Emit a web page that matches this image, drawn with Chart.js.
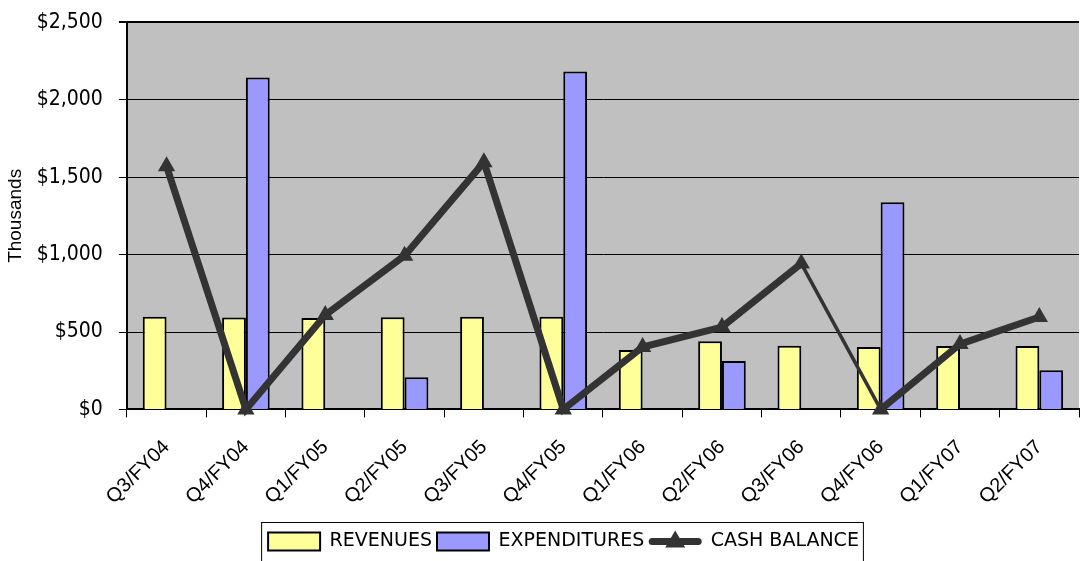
<!DOCTYPE html>
<html>
<head>
<meta charset="utf-8">
<script src="https://cdn.jsdelivr.net/npm/chart.js@4.4.1/dist/chart.umd.min.js"></script>
<style>
  html, body { margin: 0; padding: 0; background: #ffffff; }
  #wrap { width: 1089px; height: 561px; }
</style>
</head>
<body>
<div id="wrap"><canvas id="canvas-chart"></canvas></div>
<script>
let quarters = ['Q3/FY04', 'Q4/FY04', 'Q1/FY05', 'Q2/FY05', 'Q3/FY05', 'Q4/FY05',
                'Q1/FY06', 'Q2/FY06', 'Q3/FY06', 'Q4/FY06', 'Q1/FY07', 'Q2/FY07'];
let revenues = [598, 594, 590, 595, 598, 598, 383, 441, 411, 403, 409, 410];
let expenditures = [null, 2143, null, 208, null, 2182, null, 312, null, 1338, null, 253];
let cashBalance = [1570, 0, 610, 993, 1597, 0, 403, 532, 942, 0, 422, 597];
let yTicks = [0, 500, 1000, 1500, 2000, 2500];

// grey plot area
let plotBackground = {
    id: 'plotBackground',
    beforeDraw: function (chart) {
        let a = chart.chartArea;
        let c = chart.ctx;
        c.save();
        c.fillStyle = '#c0c0c0';
        c.fillRect(a.left, a.top, a.right - a.left, a.bottom - a.top);
        c.restore();
    }
};

// nudge the legend a bit to the right, then frame it and draw the line/triangle symbol
let legendShift = 17;
let legendExtras = {
    id: 'legendExtras',
    afterUpdate: function (chart) {
        let lg = chart.legend;
        lg.left += legendShift;
        lg.right += legendShift;
        lg.legendHitBoxes.forEach(h => { h.left += legendShift; });
    },
    afterDraw: function (chart) {
        let lg = chart.legend;
        let c = chart.ctx;
        let boxes = lg.legendHitBoxes;
        if (!boxes.length) return;
        let first = boxes[0], last = boxes[boxes.length - 1];
        c.save();
        c.strokeStyle = '#000';
        c.lineWidth = 1;
        c.strokeRect(first.left - 6.5, first.top - 9.5, last.left + last.width - first.left + 11, first.height + 30);

        let hb = boxes[2];
        let bw = lg.options.labels.boxWidth;
        let cy = hb.top + hb.height / 2;
        c.strokeStyle = '#333';
        c.lineWidth = 7;
        c.lineCap = 'round';
        c.beginPath();
        c.moveTo(hb.left + 3, cy);
        c.lineTo(hb.left + bw - 3, cy);
        c.stroke();
        c.fillStyle = '#333';
        c.beginPath();
        c.moveTo(hb.left + bw / 2, cy - 11);
        c.lineTo(hb.left + bw / 2 + 10, cy + 6);
        c.lineTo(hb.left + bw / 2 - 10, cy + 6);
        c.closePath();
        c.fill();
        c.restore();
    }
};

let ctx = document.getElementById('canvas-chart').getContext('2d');

let myChart = new Chart(ctx, {
    type: 'bar',
    data: {
        labels: quarters,
        datasets: [{
            label: 'REVENUES',
            data: revenues,
            backgroundColor: '#ffff99',
            borderColor: '#000000',
            borderWidth: 2,
            categoryPercentage: 0.6,
            barPercentage: 1.0,
            order: 1
        }, {
            label: 'EXPENDITURES',
            data: expenditures,
            backgroundColor: '#9999ff',
            borderColor: '#000000',
            borderWidth: 2,
            categoryPercentage: 0.6,
            barPercentage: 1.0,
            order: 1
        }, {
            type: 'line',
            label: 'CASH BALANCE',
            data: cashBalance,
            borderColor: '#333333',
            backgroundColor: '#333333',
            borderWidth: 7,
            pointStyle: 'triangle',
            pointRadius: 10,
            pointBorderWidth: 0,
            pointBackgroundColor: '#333333',
            tension: 0,
            clip: false,
            order: 0,
            segment: {
                borderWidth: c => c.p0DataIndex === 8 ? 3.5 : 7
            }
        }]
    },
    options: {
        responsive: true,
        maintainAspectRatio: false,
        animation: false,
        layout: { padding: { top: 8, right: 0, bottom: 0, left: 4 } },
        plugins: {
            tooltip: { enabled: false },
            legend: {
                position: 'bottom',
                labels: {
                    boxWidth: 52,
                    boxHeight: 18,
                    padding: 5,
                    color: '#000',
                    font: { family: 'DejaVu Sans', size: 19 },
                    sort: (a, b) => a.datasetIndex - b.datasetIndex,
                    generateLabels: function (chart) {
                        let items = Chart.defaults.plugins.legend.labels.generateLabels(chart);
                        items.forEach(it => {
                            it.lineWidth = 2;
                            it.strokeStyle = '#000';
                            if (it.datasetIndex === 2) {
                                it.fillStyle = 'rgba(0,0,0,0)';
                                it.strokeStyle = 'rgba(0,0,0,0)';
                            }
                        });
                        return items;
                    }
                }
            }
        },
        scales: {
            x: {
                grid: { display: true, drawOnChartArea: false, color: '#000', tickLength: 8, offset: true },
                border: { color: '#000', width: 2 },
                ticks: {
                    color: '#000',
                    maxRotation: 45,
                    minRotation: 45,
                    padding: 18,
                    font: { family: 'Liberation Sans', size: 20 }
                }
            },
            y: {
                min: 0,
                max: 2500,
                afterBuildTicks: axis => { axis.ticks = yTicks.map(v => ({ value: v })); },
                grid: {
                    color: '#000',
                    lineWidth: c => c.tick && c.tick.value === 2500 ? 2 : 1,
                    tickLength: 8
                },
                border: { color: '#000', width: 2 },
                title: {
                    display: true,
                    text: 'Thousands',
                    color: '#000',
                    padding: { top: 0, bottom: -6 },
                    font: { family: 'Liberation Sans', size: 19 }
                },
                ticks: {
                    color: '#000',
                    padding: 16,
                    font: { family: 'DejaVu Sans Condensed', size: 21, lineHeight: 0.6 },
                    callback: v => '$' + v.toLocaleString('en-US')
                }
            }
        }
    },
    plugins: [plotBackground, legendExtras]
});
</script>
</body>
</html>
